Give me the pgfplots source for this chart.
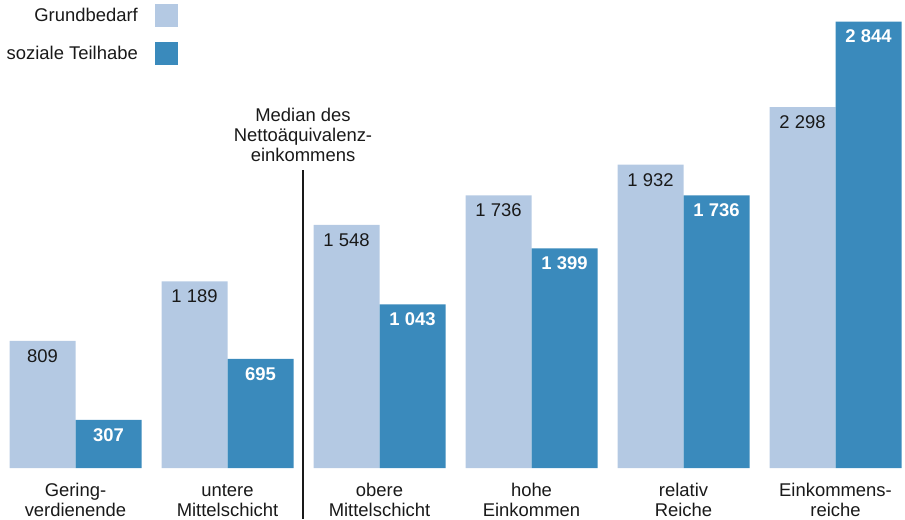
\documentclass[border=0pt]{standalone}
\usepackage{fontspec}
\setmainfont{Liberation Sans}
\usepackage{pgfplots}
\pgfplotsset{compat=1.18}
\definecolor{lightbar}{RGB}{180,201,227}
\definecolor{darkbar}{RGB}{58,138,188}
\definecolor{txt}{RGB}{25,25,25}
\begin{document}
\fontsize{18.5}{20}\selectfont
\begin{tikzpicture}
\begin{axis}[
  x=1bp, y=0.157bp,
  xmin=0, xmax=905, ymin=-325, ymax=2981,
  hide axis, clip=false,
  ybar, bar width=66, bar shift=0pt,
  nodes near coords={\pgfmathprintnumber[1000 sep={\ },assume math mode=true]{\pgfplotspointmeta}},
  every node near coord/.append style={anchor=center, yshift=-15bp, font=\fontsize{18.5}{20}\selectfont},
  legend plot pos=right,
  legend cell align=right,
  legend image code/.code={\fill[#1,draw=none] (0bp,-11.5bp) rectangle (23bp,11.5bp);},
  legend style={draw=none, fill=none, at={(axis cs:178,2955)}, anchor=north east,
    inner sep=0pt, row sep=15bp, column sep=15bp, text=txt,
    font=\fontsize{18.5}{20}\selectfont},
]
\addplot[fill=lightbar, draw=none, nodes near coords style={text=txt}]
  coordinates {(42.5,809) (194.5,1189) (346.5,1548) (498.5,1736) (650.5,1932) (802.5,2298)};
\addlegendentry{Grundbedarf}
\addplot[fill=darkbar, draw=none, every node near coord/.append style={text=white, font=\fontsize{18.5}{20}\selectfont\bfseries}]
  coordinates {(108.5,307) (260.5,695) (412.5,1043) (564.5,1399) (716.5,1736) (868.5,2844)};
\addlegendentry{soziale Teilhabe}
\draw[txt, line width=1.5bp] (axis cs:303,1898) -- (axis cs:303,-325);
\node[align=center, text=txt, font=\fontsize{18.5}{20}\selectfont] at (axis cs:303,2121) {Median des\\Nettoäquivalenz-\\einkommens};
\node[align=center, text=txt, font=\fontsize{18.5}{20}\selectfont] at (axis cs:75.5,-206) {Gering-\\verdienende};
\node[align=center, text=txt, font=\fontsize{18.5}{20}\selectfont] at (axis cs:227.5,-206) {untere\\Mittelschicht};
\node[align=center, text=txt, font=\fontsize{18.5}{20}\selectfont] at (axis cs:379.5,-206) {obere\\Mittelschicht};
\node[align=center, text=txt, font=\fontsize{18.5}{20}\selectfont] at (axis cs:531.5,-206) {hohe\\Einkommen};
\node[align=center, text=txt, font=\fontsize{18.5}{20}\selectfont] at (axis cs:683.5,-206) {relativ\\Reiche};
\node[align=center, text=txt, font=\fontsize{18.5}{20}\selectfont] at (axis cs:835.5,-206) {Einkommens-\\reiche};
\end{axis}
\pgfresetboundingbox
\path[use as bounding box] (current axis.south west) rectangle (current axis.north east);
\end{tikzpicture}
\end{document}
